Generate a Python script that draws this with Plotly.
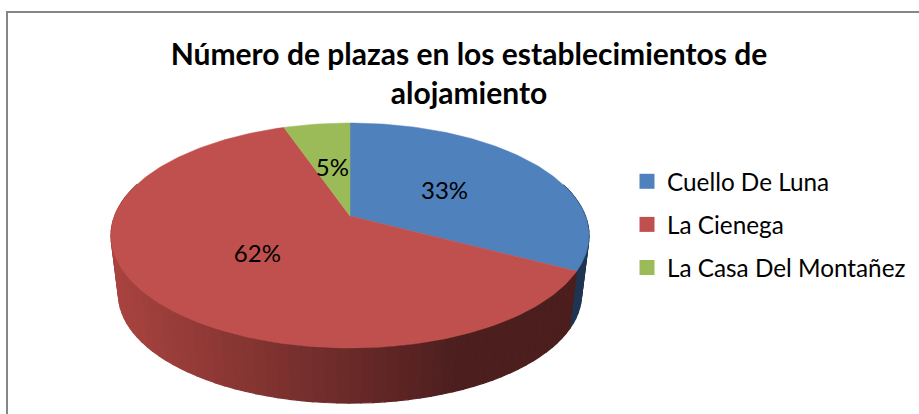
import math
import plotly.graph_objects as go

categories = ["Cuello De Luna", "La Cienega", "La Casa Del Montañez"]
values = [32.7, 62.0, 5.3]
colors = ["#4F81BD", "#C0504D", "#9BBB59"]
side_left = ["#1F3552", "#A8433F", "#5E7038"]
side_right = ["#1F3552", "#4C1E1E", "#5E7038"]
title_text = "Número de plazas en los establecimientos de<br>alojamiento"

FONT = "Lato"
CX, CY, P = 350.0, 216.0, 0.1733


def top_pt(t, r=1.0):
    X, Y = r * math.sin(t), r * math.cos(t)
    w = 1 + P * Y
    return CX + 235.4 * X / w, CY - 109.1 * Y / w


def bot_pt(t):
    X, Y = math.sin(t), math.cos(t)
    w = 1 + P * Y
    return CX + 228.0 * X / w, CY + 59.5 - 105.5 * Y / w


def mix(a, b, f):
    f = max(0.0, min(1.0, f))
    pa = [int(a[i:i + 2], 16) for i in (1, 3, 5)]
    pb = [int(b[i:i + 2], 16) for i in (1, 3, 5)]
    return "#%02x%02x%02x" % tuple(round(u + (v - u) * f) for u, v in zip(pa, pb))


total = sum(values)
spans = []
acc = 0.0
for v in values:
    spans.append((acc / total * 2 * math.pi, (acc + v) / total * 2 * math.pi))
    acc += v

fig = go.Figure()

# side wall
STEP = math.radians(2.5)
for i, (a, b) in enumerate(spans):
    t = a
    while t < b - 1e-9:
        t2 = min(t + STEP, b)
        tm = (t + t2) / 2
        if math.cos(tm) < 0.3:
            x1, y1 = top_pt(t)
            x2, y2 = top_pt(t2)
            x3, y3 = bot_pt(t2)
            x4, y4 = bot_pt(t)
            c = mix(side_left[i], side_right[i], ((x1 + x2) / 2 - 115) / 345)
            fig.add_trace(go.Scatter(
                x=[x1, x2, x3, x4, x1], y=[y1, y2, y3, y4, y1],
                mode="lines", fill="toself", fillcolor=c,
                line=dict(color=c, width=1.2),
                showlegend=False, hoverinfo="skip"))
        t = t2

# top face
for i, (a, b) in enumerate(spans):
    n = max(2, int((b - a) / math.radians(1)))
    pts = [top_pt(a + (b - a) * k / n) for k in range(n + 1)]
    xs = [CX] + [p[0] for p in pts] + [CX]
    ys = [CY] + [p[1] for p in pts] + [CY]
    fig.add_trace(go.Scatter(
        x=xs, y=ys, mode="lines", fill="toself", fillcolor=colors[i],
        line=dict(color=colors[i], width=0.5),
        showlegend=False, hoverinfo="skip"))

# data labels
lx, ly, lt = [], [], []
for v, (a, b) in zip(values, spans):
    x, y = top_pt((a + b) / 2, 0.49)
    lx.append(x)
    ly.append(y + 3)
    lt.append(f"{round(v / total * 100)}%")
fig.add_trace(go.Scatter(
    x=lx, y=ly, mode="text", text=lt, textposition="middle center",
    textfont=dict(family=FONT, size=24, color="#000000"),
    showlegend=False, hoverinfo="skip"))

# legend entries
for i, name in enumerate(categories):
    fig.add_trace(go.Scatter(
        x=[None], y=[None], mode="markers", name=name, legendgroup=name,
        marker=dict(symbol="square", size=15, color=colors[i])))

fig.update_layout(
    width=919, height=414,
    margin=dict(l=0, r=0, t=0, b=0),
    paper_bgcolor="white", plot_bgcolor="white",
    title=dict(text=title_text, x=469 / 919, xanchor="center",
               y=1 - 65 / 414, yanchor="top",
               font=dict(family=FONT, size=30, color="#000000", weight="bold")),
    xaxis=dict(range=[0, 919], visible=False, fixedrange=True),
    yaxis=dict(range=[414, 0], visible=False, fixedrange=True),
    legend=dict(x=627 / 919, y=1 - 159 / 414, xanchor="left", yanchor="top",
                font=dict(family=FONT, size=24.3, color="#000000"),
                tracegroupgap=8.5,
                bgcolor="rgba(0,0,0,0)", itemsizing="trace"),
    shapes=[dict(type="path", path="M 7 414 L 7 12 L 919 12",
                 line=dict(color="#868686", width=2), xref="x", yref="y")],
)

fig.write_html(
    "out.html",
    config={"displayModeBar": False},
    post_script="document.body.style.margin='0';document.documentElement.style.overflow='hidden';",
)
